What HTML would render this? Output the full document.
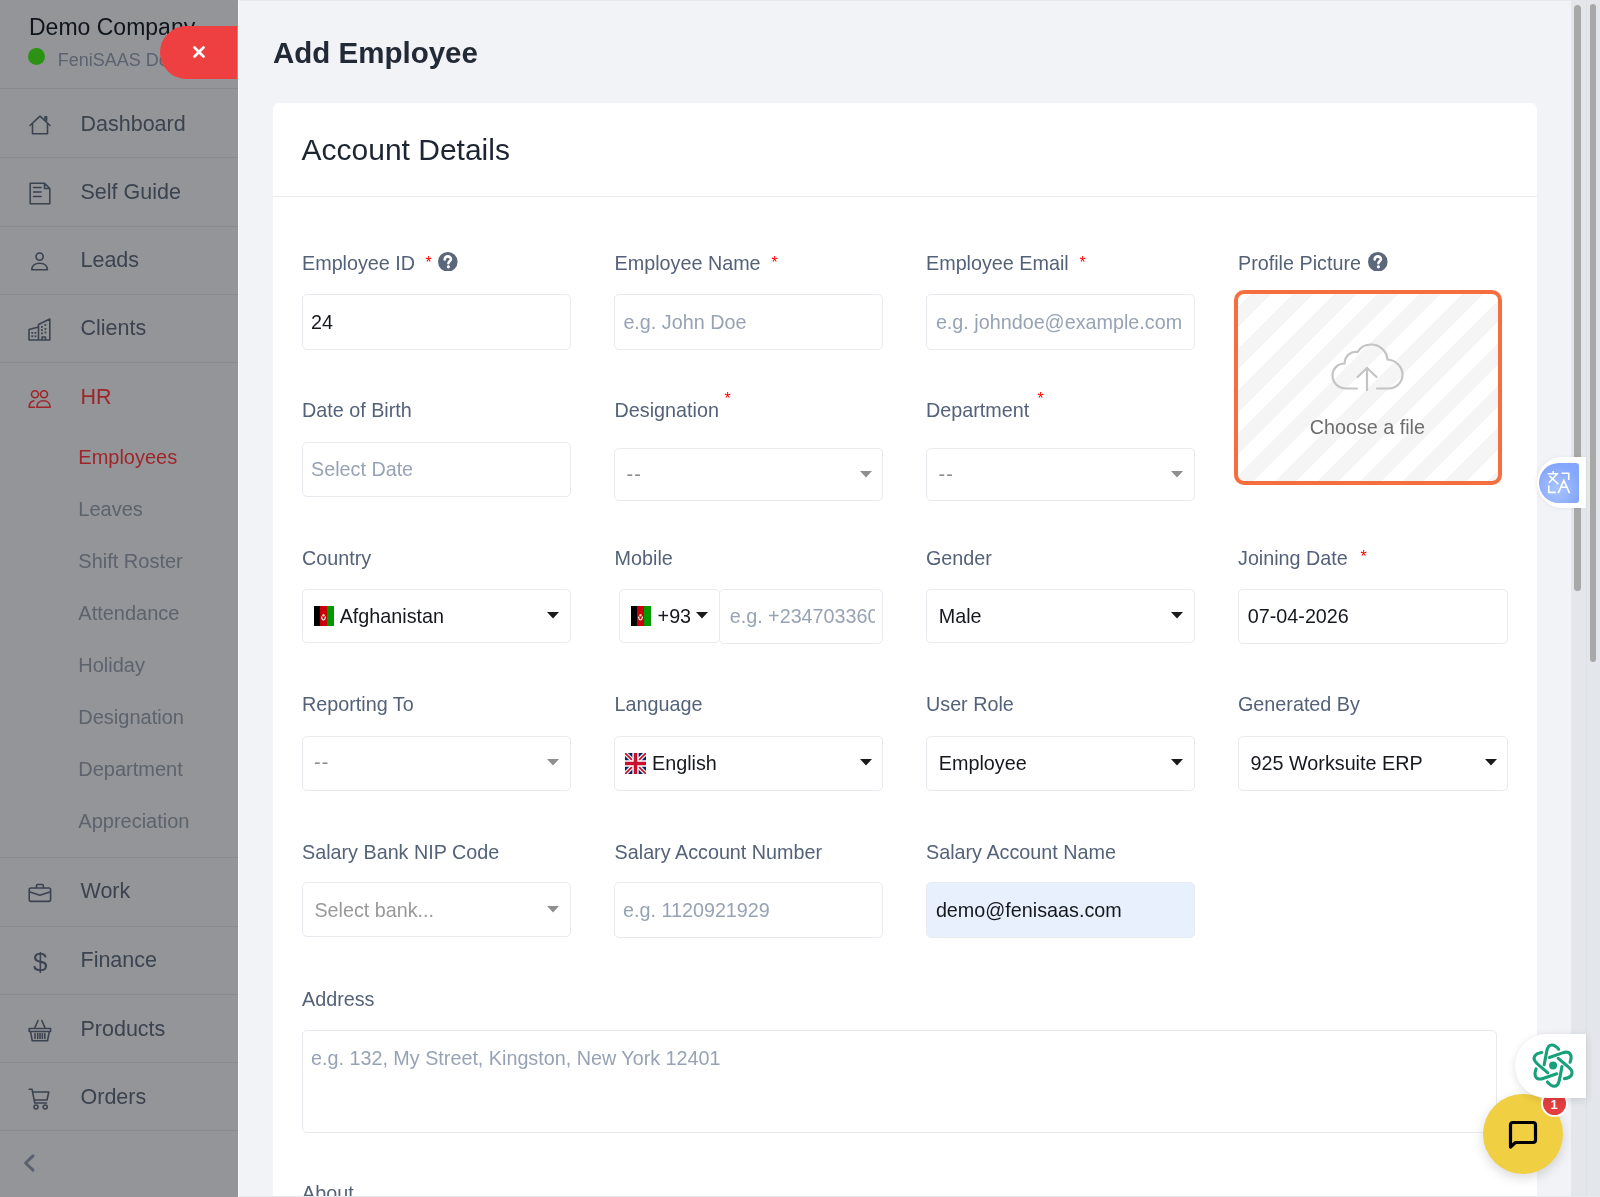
<!DOCTYPE html>
<html><head><meta charset="utf-8"><title>Add Employee</title>
<style>
html,body{margin:0;padding:0;}
body{width:1600px;height:1197px;overflow:hidden;position:relative;background:#f1f3f6;font-family:"Liberation Sans", sans-serif;}
.t,.s{position:absolute;white-space:nowrap;}
#root{position:absolute;left:0;top:0;width:1600px;height:1197px;overflow:hidden;will-change:transform;}
</style></head><body><div id="root">
<div style="position:absolute;left:0px;top:0px;width:238px;height:1197px;box-sizing:border-box;background:#939598"></div>
<div style="position:absolute;left:238px;top:0px;width:1px;height:1197px;box-sizing:border-box;background:#fafbfc"></div>
<div class="t" style="left:29.00px;top:16.16px;font-size:23px;line-height:23px;color:#0f141d;font-weight:400;">Demo Company</div>
<div style="position:absolute;left:28px;top:48px;width:17px;height:17px;box-sizing:border-box;background:#2b9214;border-radius:50%"></div>
<div class="t" style="left:57.70px;top:51.35px;font-size:18px;line-height:18px;color:#5b6270;font-weight:400;">FeniSAAS Demo</div>
<div style="position:absolute;left:160px;top:25.5px;width:77px;height:53.7px;box-sizing:border-box;background:#ee3f41;border-radius:27px 0 0 27px"></div>
<svg style="position:absolute;left:193px;top:46px" width="12" height="12" viewBox="0 0 12 12"><path d="M1.5 1.5L10.5 10.5M10.5 1.5L1.5 10.5" stroke="#fff" stroke-width="2.6" stroke-linecap="round"/></svg>
<div style="position:absolute;left:0px;top:88px;width:238px;height:1px;box-sizing:border-box;background:#878a8f"></div>
<div style="position:absolute;left:0px;top:157px;width:238px;height:1px;box-sizing:border-box;background:#878a8f"></div>
<div style="position:absolute;left:0px;top:226px;width:238px;height:1px;box-sizing:border-box;background:#878a8f"></div>
<div style="position:absolute;left:0px;top:294px;width:238px;height:1px;box-sizing:border-box;background:#878a8f"></div>
<div style="position:absolute;left:0px;top:362px;width:238px;height:1px;box-sizing:border-box;background:#878a8f"></div>
<div style="position:absolute;left:0px;top:857px;width:238px;height:1px;box-sizing:border-box;background:#878a8f"></div>
<div style="position:absolute;left:0px;top:926px;width:238px;height:1px;box-sizing:border-box;background:#878a8f"></div>
<div style="position:absolute;left:0px;top:994px;width:238px;height:1px;box-sizing:border-box;background:#878a8f"></div>
<div style="position:absolute;left:0px;top:1062px;width:238px;height:1px;box-sizing:border-box;background:#878a8f"></div>
<div style="position:absolute;left:0px;top:1130px;width:238px;height:1px;box-sizing:border-box;background:#878a8f"></div>
<div class="t" style="left:80.50px;top:114.06px;font-size:21.5px;line-height:21.5px;color:#3c4350;font-weight:400;">Dashboard</div>
<div class="t" style="left:80.50px;top:181.86px;font-size:21.5px;line-height:21.5px;color:#3c4350;font-weight:400;">Self Guide</div>
<div class="t" style="left:80.50px;top:250.16px;font-size:21.5px;line-height:21.5px;color:#3c4350;font-weight:400;">Leads</div>
<div class="t" style="left:80.50px;top:318.36px;font-size:21.5px;line-height:21.5px;color:#3c4350;font-weight:400;">Clients</div>
<div class="t" style="left:80.50px;top:386.97px;font-size:21.5px;line-height:21.5px;color:#9e262b;font-weight:400;">HR</div>
<div class="t" style="left:80.50px;top:881.36px;font-size:21.5px;line-height:21.5px;color:#3c4350;font-weight:400;">Work</div>
<div class="t" style="left:80.50px;top:950.06px;font-size:21.5px;line-height:21.5px;color:#3c4350;font-weight:400;">Finance</div>
<div class="t" style="left:80.50px;top:1018.66px;font-size:21.5px;line-height:21.5px;color:#3c4350;font-weight:400;">Products</div>
<div class="t" style="left:80.50px;top:1087.11px;font-size:21.5px;line-height:21.5px;color:#3c4350;font-weight:400;">Orders</div>
<div class="t" style="left:78.30px;top:446.85px;font-size:20px;line-height:20px;color:#9e262b;font-weight:400;">Employees</div>
<div class="t" style="left:78.30px;top:498.85px;font-size:20px;line-height:20px;color:#5d636d;font-weight:400;">Leaves</div>
<div class="t" style="left:78.30px;top:550.85px;font-size:20px;line-height:20px;color:#5d636d;font-weight:400;">Shift Roster</div>
<div class="t" style="left:78.30px;top:602.85px;font-size:20px;line-height:20px;color:#5d636d;font-weight:400;">Attendance</div>
<div class="t" style="left:78.30px;top:654.85px;font-size:20px;line-height:20px;color:#5d636d;font-weight:400;">Holiday</div>
<div class="t" style="left:78.30px;top:706.85px;font-size:20px;line-height:20px;color:#5d636d;font-weight:400;">Designation</div>
<div class="t" style="left:78.30px;top:758.85px;font-size:20px;line-height:20px;color:#5d636d;font-weight:400;">Department</div>
<div class="t" style="left:78.30px;top:810.85px;font-size:20px;line-height:20px;color:#5d636d;font-weight:400;">Appreciation</div>
<svg style="position:absolute;left:29px;top:115px;overflow:visible" width="22" height="20" viewBox="0 0 22 20" fill="none" stroke-linecap="round" stroke-linejoin="round"><path stroke="#3c4350" stroke-width="1.6" d="M1 10.5L11 1.2L21 10.5M3.5 8.2V18.8H18.5V8.2M16 4V1.8H17.6V5.5"/></svg>
<svg style="position:absolute;left:29px;top:182px;overflow:visible" width="22" height="23" viewBox="0 0 22 23" fill="none" stroke-linecap="round" stroke-linejoin="round"><path stroke="#3c4350" stroke-width="1.6" d="M1.2 1.2H15.5L20.8 6.5V21.8H1.2Z M15.5 1.2V6.5H20.8 M4.5 5.5H12 M4.5 10H12 M4.5 14.5H12"/></svg>
<svg style="position:absolute;left:30px;top:252px;overflow:visible" width="19" height="19" viewBox="0 0 19 19" fill="none" stroke-linecap="round" stroke-linejoin="round"><circle stroke="#3c4350" stroke-width="1.6" cx="9.6" cy="4.6" r="3.6"/><path stroke="#3c4350" stroke-width="1.6" d="M1.8 17.8C1.8 13.5 5.2 11.2 9.6 11.2S17.4 13.5 17.4 17.8Z"/></svg>
<svg style="position:absolute;left:28px;top:318px;overflow:visible" width="23" height="23" viewBox="0 0 23 23" fill="none" stroke-linecap="round" stroke-linejoin="round"><path stroke="#3c4350" stroke-width="1.6" d="M1 22H21.8V1L10.5 6.5V22 M1 22V11.5L10.5 9 M14 22V19H17.5V22"/><g fill="#3c4350" stroke="none"><rect x="3.3" y="14" width="1.8" height="1.8"/><rect x="6.5" y="14" width="1.8" height="1.8"/><rect x="3.3" y="17.3" width="1.8" height="1.8"/><rect x="6.5" y="17.3" width="1.8" height="1.8"/><rect x="13" y="8" width="1.8" height="1.8"/><rect x="16.5" y="6" width="1.8" height="1.8"/><rect x="13" y="11.2" width="1.8" height="1.8"/><rect x="16.5" y="10" width="1.8" height="1.8"/><rect x="13" y="14.5" width="1.8" height="1.8"/><rect x="16.5" y="13.5" width="1.8" height="1.8"/></g></svg>
<svg style="position:absolute;left:28px;top:390px;overflow:visible" width="24" height="19" viewBox="0 0 24 19" fill="none" stroke-linecap="round" stroke-linejoin="round"><circle stroke="#9e262b" stroke-width="1.6" cx="7" cy="4.3" r="3.5"/><circle stroke="#9e262b" stroke-width="1.6" cx="16" cy="4.3" r="3.5"/><path stroke="#9e262b" stroke-width="1.6" d="M8.8 17.3H22.2C22.2 13.3 19.5 10.8 15.5 10.8S8.8 13.3 8.8 17.3Z M5.8 10.8C3.2 11.6 1.2 13.8 1.2 17.3H6.5"/></svg>
<svg style="position:absolute;left:28px;top:883px;overflow:visible" width="24" height="19" viewBox="0 0 24 19" fill="none" stroke-linecap="round" stroke-linejoin="round"><path stroke="#3c4350" stroke-width="1.6" d="M3 5H20.8Q22.6 5 22.6 6.8V16.6Q22.6 18.4 20.8 18.4H3Q1.2 18.4 1.2 16.6V6.8Q1.2 5 3 5Z M8.5 5V2.5Q8.5 1.5 9.5 1.5H14.3Q15.3 1.5 15.3 2.5V5 M1.2 8.8L11.9 12.2L22.6 8.8"/></svg>
<svg style="position:absolute;left:28px;top:1019px;overflow:visible" width="24" height="24" viewBox="0 0 24 24" fill="none" stroke-linecap="round" stroke-linejoin="round"><path stroke="#3c4350" stroke-width="1.6" d="M1.2 9.5H22.6V12.5H1.2Z M2.5 12.5L4.3 21.8H19.5L21.3 12.5 M6.5 9.5L10 1.5 M17.3 9.5L13.8 1.5 M7 14.5V19.5 M9.7 14.5V19.5 M12 14.5V19.5 M14.3 14.5V19.5 M16.8 14.5V19.5"/></svg>
<svg style="position:absolute;left:28px;top:1088px;overflow:visible" width="22" height="23" viewBox="0 0 22 23" fill="none" stroke-linecap="round" stroke-linejoin="round"><path stroke="#3c4350" stroke-width="1.6" d="M1.2 1.2H4L6.8 15H18.5 M5 4H20.8L19 12H6.3"/><circle stroke="#3c4350" stroke-width="1.6" cx="8" cy="19" r="2"/><circle stroke="#3c4350" stroke-width="1.6" cx="17.2" cy="19" r="2"/></svg>
<div class="t" style="left:33.00px;top:949.35px;font-size:26px;line-height:26px;color:#3c4350;font-weight:400;">$</div>
<svg style="position:absolute;left:23px;top:1154px;overflow:visible" width="12" height="18" viewBox="0 0 12 18" fill="none" stroke-linecap="round" stroke-linejoin="round"><path stroke="#5a6170" stroke-width="3" d="M10 1.8L2.6 9L10 16.2"/></svg>
<div style="position:absolute;left:239px;top:0px;width:1332px;height:1px;box-sizing:border-box;background:#e7eaee"></div>
<div class="t" style="left:273.00px;top:37.76px;font-size:29.5px;line-height:29.5px;color:#222a37;font-weight:700;">Add Employee</div>
<div style="position:absolute;left:273px;top:103px;width:1264px;height:1197px;box-sizing:border-box;background:#fff;border-radius:6px"></div>
<div class="t" style="left:301.50px;top:135.35px;font-size:30px;line-height:30px;color:#1d2532;font-weight:400;">Account Details</div>
<div style="position:absolute;left:273px;top:196px;width:1264px;height:1px;box-sizing:border-box;background:#e8ecf1"></div>
<div class="t" style="left:302.00px;top:254.36px;font-size:19.75px;line-height:19.75px;color:#546279;font-weight:400;">Employee ID</div>
<div class="s" style="left:425.40px;top:255.00px;font-size:16px;line-height:16px;color:#f00">*</div>
<svg style="position:absolute;left:438px;top:251.9px" width="19.6" height="19.6" viewBox="0 0 19.6 19.6"><circle cx="9.8" cy="9.8" r="9.8" fill="#5b687c"/><path d="M6.7 7.4C6.7 5.6 8 4.4 9.8 4.4S12.9 5.5 12.9 7.2C12.9 9.3 10.4 9.3 10.4 11.3" stroke="#fff" stroke-width="2.6" fill="none" stroke-linecap="round"/><circle cx="10.4" cy="14.8" r="1.6" fill="#fff"/></svg>
<div class="t" style="left:614.60px;top:254.36px;font-size:19.75px;line-height:19.75px;color:#546279;font-weight:400;">Employee Name</div>
<div class="s" style="left:771.40px;top:255.00px;font-size:16px;line-height:16px;color:#f00">*</div>
<div class="t" style="left:926.00px;top:254.36px;font-size:19.75px;line-height:19.75px;color:#546279;font-weight:400;">Employee Email</div>
<div class="s" style="left:1079.40px;top:255.00px;font-size:16px;line-height:16px;color:#f00">*</div>
<div class="t" style="left:1238.00px;top:254.36px;font-size:19.75px;line-height:19.75px;color:#546279;font-weight:400;">Profile Picture</div>
<svg style="position:absolute;left:1368px;top:251.9px" width="19.6" height="19.6" viewBox="0 0 19.6 19.6"><circle cx="9.8" cy="9.8" r="9.8" fill="#5b687c"/><path d="M6.7 7.4C6.7 5.6 8 4.4 9.8 4.4S12.9 5.5 12.9 7.2C12.9 9.3 10.4 9.3 10.4 11.3" stroke="#fff" stroke-width="2.6" fill="none" stroke-linecap="round"/><circle cx="10.4" cy="14.8" r="1.6" fill="#fff"/></svg>
<div style="position:absolute;left:302px;top:294px;width:269px;height:56px;box-sizing:border-box;border:1px solid #e7ebf0;border-radius:5px;background:#fff"></div>
<div class="t" style="left:311.00px;top:312.86px;font-size:19.75px;line-height:19.75px;color:#15181d;font-weight:400;">24</div>
<div style="position:absolute;left:614px;top:294px;width:269px;height:56px;box-sizing:border-box;border:1px solid #e7ebf0;border-radius:5px;background:#fff"></div>
<div class="t" style="left:623.40px;top:312.86px;font-size:19.75px;line-height:19.75px;color:#97a3b4;font-weight:400;">e.g. John Doe</div>
<div style="position:absolute;left:926px;top:294px;width:269px;height:56px;box-sizing:border-box;border:1px solid #e7ebf0;border-radius:5px;background:#fff"></div>
<div class="t" style="left:935.90px;top:312.86px;font-size:19.75px;line-height:19.75px;color:#97a3b4;font-weight:400;">e.g. johndoe@example.com</div>
<div style="position:absolute;left:1234px;top:290px;width:268px;height:195px;box-sizing:border-box;border:4px solid #f56e3f;border-radius:10px;background:repeating-linear-gradient(135deg,#fff 0 8.5px,#f5f5f5 8.5px 23.5px,#fff 23.5px 30px)"></div>
<svg style="position:absolute;left:1331px;top:343px" width="73" height="48" viewBox="0 0 73 48" fill="none" stroke="#c4c4c4" stroke-width="2.2" stroke-linecap="round"><path d="M26 45.5H15C7.5 45.5 1.5 40 1.5 32.5C1.5 25.5 7 20.5 13.5 20.5C14 12.5 20 8 26.5 9C29.5 4 34.5 1.5 40 1.5C48.5 1.5 55.5 7.5 56.5 16.5C64.5 17 71.5 23.5 71.5 31.5C71.5 39.5 65 45.5 57.5 45.5H46"/><path d="M36 47V25M26.5 34L36 25L45.5 34"/></svg>
<div class="t" style="left:1309.70px;top:418.36px;font-size:19.75px;line-height:19.75px;color:#6e6e6e;font-weight:400;">Choose a file</div>
<div class="t" style="left:302.00px;top:401.36px;font-size:19.75px;line-height:19.75px;color:#546279;font-weight:400;">Date of Birth</div>
<div class="t" style="left:614.60px;top:401.36px;font-size:19.75px;line-height:19.75px;color:#546279;font-weight:400;">Designation</div>
<div class="s" style="left:724.40px;top:391.00px;font-size:16px;line-height:16px;color:#f00">*</div>
<div class="t" style="left:926.00px;top:401.36px;font-size:19.75px;line-height:19.75px;color:#546279;font-weight:400;">Department</div>
<div class="s" style="left:1037.40px;top:391.00px;font-size:16px;line-height:16px;color:#f00">*</div>
<div style="position:absolute;left:302px;top:442px;width:269px;height:55px;box-sizing:border-box;border:1px solid #e7ebf0;border-radius:5px;background:#fff"></div>
<div class="t" style="left:311.00px;top:460.36px;font-size:19.75px;line-height:19.75px;color:#97a3b4;font-weight:400;">Select Date</div>
<div style="position:absolute;left:614px;top:448px;width:269px;height:53px;box-sizing:border-box;border:1px solid #e7ebf0;border-radius:5px;background:#fff"></div>
<div class="t" style="left:626.50px;top:465.36px;font-size:19.75px;line-height:19.75px;color:#8d8d8d;font-weight:400;"><span style="letter-spacing:1.2px">--</span></div>
<svg style="position:absolute;left:860px;top:471px" width="12" height="7" viewBox="0 0 12 7"><path d="M0 0H12L6 6.5Z" fill="#8f8f8f"/></svg>
<div style="position:absolute;left:926px;top:448px;width:269px;height:53px;box-sizing:border-box;border:1px solid #e7ebf0;border-radius:5px;background:#fff"></div>
<div class="t" style="left:938.50px;top:465.36px;font-size:19.75px;line-height:19.75px;color:#8d8d8d;font-weight:400;"><span style="letter-spacing:1.2px">--</span></div>
<svg style="position:absolute;left:1171.2px;top:471px" width="12" height="7" viewBox="0 0 12 7"><path d="M0 0H12L6 6.5Z" fill="#8f8f8f"/></svg>
<div class="t" style="left:302.00px;top:548.75px;font-size:19.75px;line-height:19.75px;color:#546279;font-weight:400;">Country</div>
<div class="t" style="left:614.60px;top:548.75px;font-size:19.75px;line-height:19.75px;color:#546279;font-weight:400;">Mobile</div>
<div class="t" style="left:926.00px;top:548.75px;font-size:19.75px;line-height:19.75px;color:#546279;font-weight:400;">Gender</div>
<div class="t" style="left:1238.00px;top:548.75px;font-size:19.75px;line-height:19.75px;color:#546279;font-weight:400;">Joining Date</div>
<div class="s" style="left:1360.40px;top:549.00px;font-size:16px;line-height:16px;color:#f00">*</div>
<div style="position:absolute;left:302px;top:589px;width:269px;height:54px;box-sizing:border-box;border:1px solid #e7ebf0;border-radius:5px;background:#fff"></div>
<svg style="position:absolute;left:314px;top:605.5px" width="20" height="20" viewBox="0 0 20 20"><rect width="6" height="20" fill="#000"/><rect x="6" width="7" height="20" fill="#c8000a"/><rect x="13" width="7" height="20" fill="#009a00"/><path d="M7.6 10.5C7.8 13 8.7 14 9.5 14S11.2 13 11.4 10.5" stroke="#fff" stroke-width="1.2" fill="none"/><circle cx="9.5" cy="9.2" r="1.2" fill="#f3d2b0"/></svg>
<div class="t" style="left:339.70px;top:606.86px;font-size:19.75px;line-height:19.75px;color:#15181d;font-weight:400;">Afghanistan</div>
<svg style="position:absolute;left:547px;top:612px" width="12" height="7" viewBox="0 0 12 7"><path d="M0 0H12L6 6.5Z" fill="#1a1a1a"/></svg>
<div style="position:absolute;left:619px;top:589px;width:101px;height:54px;box-sizing:border-box;border:1px solid #e7ebf0;border-radius:5px;background:#fff"></div>
<svg style="position:absolute;left:631px;top:605.5px" width="20" height="20" viewBox="0 0 20 20"><rect width="6" height="20" fill="#000"/><rect x="6" width="7" height="20" fill="#c8000a"/><rect x="13" width="7" height="20" fill="#009a00"/><path d="M7.6 10.5C7.8 13 8.7 14 9.5 14S11.2 13 11.4 10.5" stroke="#fff" stroke-width="1.2" fill="none"/><circle cx="9.5" cy="9.2" r="1.2" fill="#f3d2b0"/></svg>
<div class="t" style="left:657.60px;top:606.95px;font-size:19.75px;line-height:19.75px;color:#15181d;font-weight:400;">+93</div>
<svg style="position:absolute;left:696px;top:612px" width="12" height="7" viewBox="0 0 12 7"><path d="M0 0H12L6 6.5Z" fill="#1a1a1a"/></svg>
<div style="position:absolute;left:719px;top:589px;width:164px;height:55px;box-sizing:border-box;border:1px solid #e7ebf0;border-radius:5px;background:#fff"></div>
<div class="t" style="left:729.70px;top:607.36px;font-size:19.75px;line-height:19.75px;color:#97a3b4;font-weight:400;"><span style="display:inline-block;width:145px;overflow:hidden;white-space:nowrap;vertical-align:top">e.g. +2347033600000</span></div>
<div style="position:absolute;left:926px;top:589px;width:269px;height:54px;box-sizing:border-box;border:1px solid #e7ebf0;border-radius:5px;background:#fff"></div>
<div class="t" style="left:938.80px;top:606.86px;font-size:19.75px;line-height:19.75px;color:#15181d;font-weight:400;">Male</div>
<svg style="position:absolute;left:1171.2px;top:612px" width="12" height="7" viewBox="0 0 12 7"><path d="M0 0H12L6 6.5Z" fill="#1a1a1a"/></svg>
<div style="position:absolute;left:1238px;top:589px;width:270px;height:55px;box-sizing:border-box;border:1px solid #e7ebf0;border-radius:5px;background:#fff"></div>
<div class="t" style="left:1247.80px;top:607.36px;font-size:19.75px;line-height:19.75px;color:#15181d;font-weight:400;">07-04-2026</div>
<div class="t" style="left:302.00px;top:695.36px;font-size:19.75px;line-height:19.75px;color:#546279;font-weight:400;">Reporting To</div>
<div class="t" style="left:614.60px;top:695.36px;font-size:19.75px;line-height:19.75px;color:#546279;font-weight:400;">Language</div>
<div class="t" style="left:926.00px;top:695.36px;font-size:19.75px;line-height:19.75px;color:#546279;font-weight:400;">User Role</div>
<div class="t" style="left:1238.00px;top:695.36px;font-size:19.75px;line-height:19.75px;color:#546279;font-weight:400;">Generated By</div>
<div style="position:absolute;left:302px;top:736px;width:269px;height:55px;box-sizing:border-box;border:1px solid #e7ebf0;border-radius:5px;background:#fff"></div>
<div class="t" style="left:314.00px;top:753.36px;font-size:19.75px;line-height:19.75px;color:#8d8d8d;font-weight:400;"><span style="letter-spacing:1.2px">--</span></div>
<svg style="position:absolute;left:547px;top:759px" width="12" height="7" viewBox="0 0 12 7"><path d="M0 0H12L6 6.5Z" fill="#8f8f8f"/></svg>
<div style="position:absolute;left:614px;top:736px;width:269px;height:55px;box-sizing:border-box;border:1px solid #e7ebf0;border-radius:5px;background:#fff"></div>
<svg style="position:absolute;left:625px;top:752.5px" width="21" height="21" viewBox="0 0 60 60"><rect width="60" height="60" fill="#012169"/><path d="M0 0L60 60M60 0L0 60" stroke="#fff" stroke-width="12"/><path d="M0 0L60 60M60 0L0 60" stroke="#C8102E" stroke-width="5"/><path d="M30 0V60M0 30H60" stroke="#fff" stroke-width="18"/><path d="M30 0V60M0 30H60" stroke="#C8102E" stroke-width="10"/></svg>
<div class="t" style="left:652.00px;top:754.36px;font-size:19.75px;line-height:19.75px;color:#15181d;font-weight:400;">English</div>
<svg style="position:absolute;left:860px;top:759px" width="12" height="7" viewBox="0 0 12 7"><path d="M0 0H12L6 6.5Z" fill="#1a1a1a"/></svg>
<div style="position:absolute;left:926px;top:736px;width:269px;height:55px;box-sizing:border-box;border:1px solid #e7ebf0;border-radius:5px;background:#fff"></div>
<div class="t" style="left:938.80px;top:753.95px;font-size:19.75px;line-height:19.75px;color:#15181d;font-weight:400;">Employee</div>
<svg style="position:absolute;left:1171.2px;top:759px" width="12" height="7" viewBox="0 0 12 7"><path d="M0 0H12L6 6.5Z" fill="#1a1a1a"/></svg>
<div style="position:absolute;left:1238px;top:736px;width:270px;height:55px;box-sizing:border-box;border:1px solid #e7ebf0;border-radius:5px;background:#fff"></div>
<div class="t" style="left:1250.60px;top:753.95px;font-size:19.75px;line-height:19.75px;color:#15181d;font-weight:400;">925 Worksuite ERP</div>
<svg style="position:absolute;left:1484.5px;top:759px" width="12" height="7" viewBox="0 0 12 7"><path d="M0 0H12L6 6.5Z" fill="#1a1a1a"/></svg>
<div class="t" style="left:302.00px;top:842.86px;font-size:19.75px;line-height:19.75px;color:#546279;font-weight:400;">Salary Bank NIP Code</div>
<div class="t" style="left:614.60px;top:842.86px;font-size:19.75px;line-height:19.75px;color:#546279;font-weight:400;">Salary Account Number</div>
<div class="t" style="left:926.00px;top:842.86px;font-size:19.75px;line-height:19.75px;color:#546279;font-weight:400;">Salary Account Name</div>
<div style="position:absolute;left:302px;top:882px;width:269px;height:55px;box-sizing:border-box;border:1px solid #e7ebf0;border-radius:5px;background:#fff"></div>
<div class="t" style="left:314.40px;top:900.95px;font-size:19.75px;line-height:19.75px;color:#999;font-weight:400;">Select bank...</div>
<svg style="position:absolute;left:547px;top:906px" width="12" height="7" viewBox="0 0 12 7"><path d="M0 0H12L6 6.5Z" fill="#8f8f8f"/></svg>
<div style="position:absolute;left:614px;top:882px;width:269px;height:56px;box-sizing:border-box;border:1px solid #e7ebf0;border-radius:5px;background:#fff"></div>
<div class="t" style="left:623.00px;top:901.36px;font-size:19.75px;line-height:19.75px;color:#97a3b4;font-weight:400;">e.g. 1120921929</div>
<div style="position:absolute;left:926px;top:882px;width:269px;height:56px;box-sizing:border-box;border:1px solid #e7ebf0;border-radius:5px;background:#e8f0fe"></div>
<div class="t" style="left:935.90px;top:901.36px;font-size:19.75px;line-height:19.75px;color:#15181d;font-weight:400;">demo@fenisaas.com</div>
<div class="t" style="left:302.00px;top:989.86px;font-size:19.75px;line-height:19.75px;color:#546279;font-weight:400;">Address</div>
<div style="position:absolute;left:302px;top:1030px;width:1195px;height:103px;box-sizing:border-box;border:1px solid #e7ebf0;border-radius:5px;background:#fff"></div>
<div class="t" style="left:311.00px;top:1049.36px;font-size:19.75px;line-height:19.75px;color:#97a3b4;font-weight:400;">e.g. 132, My Street, Kingston, New York 12401</div>
<div class="t" style="left:302.00px;top:1183.86px;font-size:19.75px;line-height:19.75px;color:#546279;font-weight:400;">About</div>
<div style="position:absolute;left:1571px;top:0px;width:15px;height:1197px;box-sizing:border-box;background:#e3e7eb"></div>
<div style="position:absolute;left:1586px;top:0px;width:14px;height:1197px;box-sizing:border-box;background:#e3e7eb;border-left:1px solid #dde1e6"></div>
<div style="position:absolute;left:1574px;top:5px;width:7px;height:586px;box-sizing:border-box;background:#a9a8a9;border-radius:4px"></div>
<div style="position:absolute;left:1589.5px;top:4px;width:6.5px;height:658px;box-sizing:border-box;background:#a9a8a9;border-radius:4px"></div>
<div style="position:absolute;left:239px;top:1196px;width:1361px;height:1px;box-sizing:border-box;background:#e6e9ee"></div>
<div style="position:absolute;left:1537px;top:457px;width:49px;height:51px;box-sizing:border-box;background:#fff;border-radius:26px 0 0 26px;box-shadow:-1px 0 4px rgba(0,0,0,0.06)"></div>
<div style="position:absolute;left:1539px;top:463px;width:40px;height:40px;box-sizing:border-box;background:radial-gradient(circle at 45% 65%,#a9c4fb,#84a6fb 70%);border-radius:20px 3px 3px 20px"></div>
<svg style="position:absolute;left:1540px;top:465px" width="40" height="35" viewBox="0 0 40 35" fill="none" stroke="#fff" stroke-width="1.6" stroke-linecap="square" stroke-linejoin="miter"><path d="M8.5 8.8H17.5M13.2 6.9V8.8M10 11.4L17.6 18.5M16.3 9.8L9.5 17.3M22.4 8.2H28.7V14.2M8.8 21.2V27.4H15M18.6 27.4L23.8 15.4L29.2 27.4M20.8 22.3H26.6"/></svg>
<div style="position:absolute;left:1483px;top:1094px;width:80px;height:80px;box-sizing:border-box;background:#f0cf43;border-radius:50%;box-shadow:0 4px 12px rgba(0,0,0,0.15)"></div>
<svg style="position:absolute;left:1508px;top:1120px" width="30" height="30" viewBox="0 0 30 30" fill="none" stroke="#000" stroke-width="3.2" stroke-linejoin="round"><path d="M2.5 27V5C2.5 3.5 3.5 2.5 5 2.5H25C26.5 2.5 27.5 3.5 27.5 5V20C27.5 21.5 26.5 22.5 25 22.5H7.5Z"/></svg>
<div style="position:absolute;left:1540.5px;top:1090px;width:27.0px;height:27px;box-sizing:border-box;background:#e53e3e;border:2.5px solid #fff;border-radius:50%"></div>
<div class="t" style="left:1550.60px;top:1097.66px;font-size:13px;line-height:13px;color:#fff;font-weight:700;">1</div>
<div style="position:absolute;left:1515px;top:1034px;width:71px;height:64px;box-sizing:border-box;background:#fff;border-radius:32px 0 0 32px;box-shadow:0 2px 8px rgba(0,0,0,0.12)"></div>
<svg style="position:absolute;left:1525px;top:1038px" width="56" height="56" viewBox="-28.07 -27.6 56 56" fill="none" stroke="#17a079" stroke-width="3.1" stroke-linecap="round" stroke-linejoin="round"><path d="M-8.9 -0.9L-6.3 -14.5C-5.5 -18.5 -3.5 -20.6 -1.2 -20.6C1.2 -20.6 3.5 -19 5.6 -16.4" transform="rotate(0)"/><path d="M-8.9 -0.9L-6.3 -14.5C-5.5 -18.5 -3.5 -20.6 -1.2 -20.6C1.2 -20.6 3.5 -19 5.6 -16.4" transform="rotate(60)"/><path d="M-8.9 -0.9L-6.3 -14.5C-5.5 -18.5 -3.5 -20.6 -1.2 -20.6C1.2 -20.6 3.5 -19 5.6 -16.4" transform="rotate(120)"/><path d="M-8.9 -0.9L-6.3 -14.5C-5.5 -18.5 -3.5 -20.6 -1.2 -20.6C1.2 -20.6 3.5 -19 5.6 -16.4" transform="rotate(180)"/><path d="M-8.9 -0.9L-6.3 -14.5C-5.5 -18.5 -3.5 -20.6 -1.2 -20.6C1.2 -20.6 3.5 -19 5.6 -16.4" transform="rotate(240)"/><path d="M-8.9 -0.9L-6.3 -14.5C-5.5 -18.5 -3.5 -20.6 -1.2 -20.6C1.2 -20.6 3.5 -19 5.6 -16.4" transform="rotate(300)"/><circle r="4" fill="#17a079" stroke="none"/></svg>
</div></body></html>
